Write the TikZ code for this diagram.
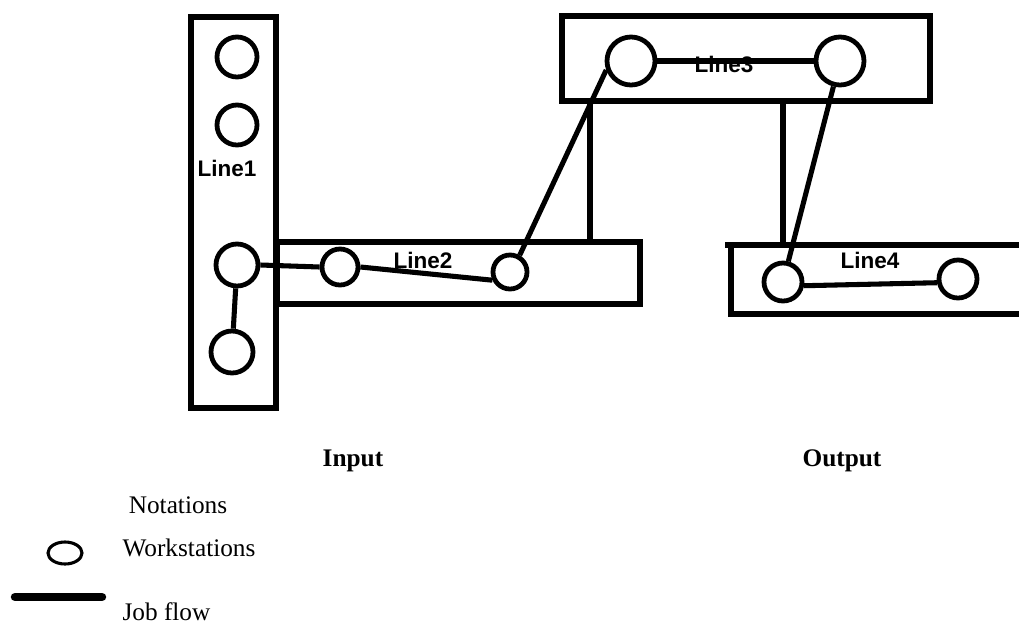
\documentclass[tikz,border=0pt]{standalone}
\usepackage{fontspec}
\setmainfont{Liberation Serif}
\setsansfont{Liberation Sans}
\usepackage{tikz}
\usetikzlibrary{shapes}
\begin{document}
\begin{tikzpicture}[x=0.025cm,y=-0.025cm]
\tikzstyle{every path}=[line width=3.6pt]
\tikzstyle{linebox}=[draw,rectangle,inner sep=0pt,line width=4pt]
\tikzstyle{ws}=[draw,circle,inner sep=0pt,line width=3.4pt]
\tikzstyle{linelabel}=[font=\sffamily\bfseries\fontsize{16}{18}\selectfont,inner sep=1pt]
\tikzstyle{caption}=[font=\fontsize{18}{21}\selectfont,inner sep=0pt]
\useasboundingbox (0,0) rectangle (1019,626);
\node [linebox,minimum width=2.125cm,minimum height=9.775cm] (line1) at (233.5,212.5) {};
\node [linebox,minimum width=9.075cm,minimum height=1.55cm] (line2) at (458.5,273) {};
\node [linebox,minimum width=9.2cm,minimum height=2.125cm] (line3) at (746,58.5) {};
\coordinate (l4nw) at (731,245);
\coordinate (l4sw) at (731,314);
\draw [line width=4pt] (725,245) -- (1019,245) (l4nw) -- (l4sw) -- (1019,314);
\node [linelabel] (lab1) at (227,168) {Line1};
\node [linelabel] (lab2) at (423,260) {Line2};
\node [linelabel] (lab3) at (724,64) {Line3};
\node [linelabel] (lab4) at (870,260) {Line4};
\node [ws,minimum size=1cm] (w11) at (237,57) {};
\node [ws,minimum size=1cm] (w12) at (237,125) {};
\node [ws,minimum size=1.05cm] (w13) at (237,265) {};
\node [ws,minimum size=1.05cm] (w14) at (232,352) {};
\node [ws,minimum size=0.9cm] (w21) at (340,267) {};
\node [ws,minimum size=0.85cm] (w22) at (510,272) {};
\node [ws,minimum size=1.2cm] (w31) at (631,61) {};
\node [ws,minimum size=1.2cm] (w32) at (840,61) {};
\node [ws,minimum size=0.95cm] (w41) at (783,282) {};
\node [ws,minimum size=0.95cm] (w42) at (958,279) {};
\coordinate (l4top) at (783,245);
\draw (line3.south -| 590,0) -- (line2.north -| 590,0);
\draw (line3.south -| l4top) -- (l4top);
\draw (w13) -- (w14);
\draw (w13.east) -- (w21.west);
\draw (w21.east) -- (w22.205);
\draw (w22.60) -- (w31.200);
\draw (w31.east) -- (w32.west);
\draw (w32) -- (w41);
\draw (w41.-10) -- (w42.190);
\node [caption,font=\bfseries\fontsize{18}{21}\selectfont] (input) at (353,461) {Input};
\node [caption,font=\bfseries\fontsize{18}{21}\selectfont] (output) at (842,461) {Output};
\node [caption] (notations) at (178,505) {Notations};
\node [caption,anchor=west] (wstext) at (120,548) {Workstations};
\node [caption,anchor=west] (jftext) at (120,612) {Job flow};
\node [draw,ellipse,line width=2.2pt,minimum width=0.85cm,minimum height=0.55cm,inner sep=0pt] (legws) at (65,553) {};
\coordinate (jfa) at (15,597);
\coordinate (jfb) at (102,597);
\draw [line width=6pt,line cap=round] (jfa) -- (jfb);
\end{tikzpicture}
\end{document}
